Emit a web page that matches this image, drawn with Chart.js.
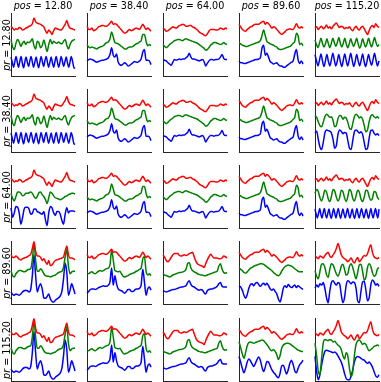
<!DOCTYPE html>
<html>
<head>
<meta charset="utf-8">
<script src="https://cdn.jsdelivr.net/npm/chart.js@4.4.1/dist/chart.umd.min.js"></script>
<style>
  body { margin: 0; background: #fff; width: 381px; height: 382px; position: relative; overflow: hidden;
         font-family: "DejaVu Sans", sans-serif; }
  canvas { position: absolute; }
  .ttl { position: absolute; font-size: 9.6px; line-height: 12px; text-align: center; width: 90px; white-space: nowrap; color: #000; }
  .rowlbl { position: absolute; font-size: 9.6px; line-height: 12px; text-align: center; width: 90px; white-space: nowrap;
            transform: rotate(-90deg); color: #000; }
</style>
</head>
<body>
<script>
// tick / header labels
const posLabels = ['12.80', '38.40', '64.00', '89.60', '115.20'];
const prLabels = ['12.80', '38.40', '64.00', '89.60', '115.20'];

// column pos=12.80
const a0Red = [.79,.76,.73,.75,.74,.77,.76,.73,.74,.76,.77,.79,.80,.83,.92,.86,.84,.83,.82,.80,.78,.72,.68,.73,.70,.66,.72,.76,.75,.74,.73,.74,.78,.82,.88,.80,.76,.75,.74,.73];
const a0Green = [.58,.46,.42,.52,.58,.54,.47,.52,.55,.50,.54,.53,.55,.59,.48,.43,.55,.53,.45,.48,.57,.48,.39,.50,.58,.51,.55,.53,.52,.54,.52,.51,.55,.58,.49,.43,.50,.55,.57,.58];
const a0Blue = [.30,.22,.14,.22,.31,.22,.14,.23,.31,.21,.13,.22,.30,.22,.15,.24,.31,.22,.14,.22,.30,.21,.13,.22,.31,.23,.15,.24,.31,.22,.14,.22,.30,.21,.14,.23,.31,.22,.14,.22,.31,.23,.15,.23,.30,.21,.14,.22,.31,.24,.14,.12];
const a2Green = [.55,.47,.43,.50,.57,.57,.55,.51,.52,.55,.55,.56,.57,.55,.50,.47,.50,.56,.57,.53,.50,.45,.39,.48,.57,.55,.51,.48,.47,.46,.45,.46,.48,.50,.51,.53,.54,.55,.55,.54];
const a2Blue = [.32,.17,.24,.34,.33,.24,.06,.16,.30,.33,.33,.30,.22,.23,.30,.30,.26,.25,.23,.22,.26,.13,.04,.24,.34,.32,.24,.20,.26,.26,.22,.12,.06,.22,.32,.24,.27,.27,.27,.26];
const a3Red = [.79,.74,.74,.76,.74,.71,.70,.72,.73,.74,.75,.77,.79,.88,.99,.84,.76,.76,.74,.69,.72,.67,.63,.69,.61,.62,.66,.69,.70,.71,.72,.73,.75,.84,.92,.78,.73,.73,.72,.70];
const a3Green = [.53,.45,.43,.48,.51,.53,.53,.52,.51,.52,.54,.55,.56,.70,.96,.70,.52,.52,.56,.53,.48,.45,.44,.44,.43,.44,.45,.46,.48,.50,.51,.52,.58,.75,.86,.60,.48,.51,.52,.52];
const a3Blue = [.19,.15,.14,.16,.15,.14,.16,.19,.21,.22,.21,.19,.23,.45,.78,.45,.19,.27,.32,.24,.10,.09,.12,.16,.08,.04,.03,.06,.08,.10,.13,.20,.40,.65,.50,.14,.22,.32,.25,.16];

// column pos=38.40
const bRed = [.79,.74,.74,.76,.72,.73,.75,.78,.79,.80,.80,.79,.79,.81,.84,.87,.82,.83,.82,.79,.76,.73,.70,.68,.69,.72,.74,.72,.73,.75,.76,.75,.74,.78,.82,.78,.74,.76,.74,.71];
const b0Green = [.50,.46,.45,.46,.45,.44,.43,.45,.46,.47,.48,.51,.53,.54,.59,.70,.62,.53,.52,.51,.49,.47,.45,.43,.43,.45,.46,.46,.47,.49,.51,.52,.54,.56,.66,.66,.55,.48,.50,.48];
const b0Blue = [.24,.26,.27,.26,.25,.23,.22,.23,.24,.25,.25,.26,.27,.29,.34,.45,.33,.30,.35,.22,.18,.17,.19,.21,.19,.16,.17,.19,.21,.23,.22,.22,.24,.27,.38,.42,.25,.25,.24,.18];
const b3Green = [.49,.48,.50,.51,.49,.48,.50,.52,.53,.52,.53,.55,.56,.57,.62,.85,.70,.53,.52,.51,.52,.48,.44,.43,.44,.45,.47,.48,.49,.50,.52,.53,.55,.57,.72,.75,.52,.46,.48,.45];
const b3Blue = [.17,.20,.23,.24,.24,.23,.24,.26,.27,.28,.29,.28,.28,.30,.35,.57,.30,.45,.32,.24,.22,.21,.19,.17,.20,.23,.23,.20,.20,.22,.24,.24,.25,.30,.55,.35,.14,.24,.27,.22];

// column pos=64.00
const c0Red = [.76,.74,.71,.72,.74,.76,.78,.77,.76,.78,.80,.81,.82,.81,.79,.79,.80,.80,.78,.77,.75,.73,.70,.68,.67,.65,.64,.67,.71,.74,.74,.74,.73,.73,.74,.76,.75,.74,.76,.75];
const c0Green = [.50,.47,.45,.47,.50,.52,.54,.56,.57,.58,.58,.57,.56,.58,.59,.58,.57,.56,.55,.54,.53,.52,.50,.48,.46,.44,.41,.42,.45,.49,.51,.53,.53,.52,.51,.50,.51,.53,.51,.50];
const c0Blue = [.26,.25,.24,.21,.19,.17,.22,.26,.25,.26,.27,.26,.27,.27,.29,.31,.36,.30,.27,.27,.26,.25,.24,.25,.26,.23,.16,.20,.24,.26,.26,.25,.26,.26,.27,.30,.34,.28,.26,.26];
const c3Red = [.78,.74,.69,.67,.70,.74,.78,.80,.80,.80,.77,.76,.77,.78,.77,.78,.80,.81,.82,.75,.68,.64,.62,.61,.60,.58,.64,.70,.75,.79,.76,.73,.73,.73,.72,.72,.73,.76,.75,.73];
const c3Green = [.48,.46,.45,.44,.43,.44,.46,.47,.48,.49,.50,.50,.51,.52,.55,.64,.66,.57,.53,.51,.50,.48,.47,.46,.46,.45,.45,.46,.47,.48,.49,.50,.51,.52,.60,.64,.55,.50,.49,.50];
const c3Blue = [.21,.20,.19,.20,.21,.22,.23,.23,.24,.25,.26,.27,.27,.28,.29,.34,.37,.31,.28,.27,.25,.23,.22,.23,.22,.18,.16,.21,.23,.24,.24,.25,.26,.28,.32,.34,.28,.27,.27,.27];

// column pos=89.60
const dRed = [.82,.78,.74,.72,.71,.74,.76,.78,.79,.81,.82,.82,.82,.84,.86,.87,.82,.85,.83,.80,.76,.78,.77,.74,.71,.68,.66,.68,.70,.73,.74,.75,.74,.74,.78,.83,.78,.76,.78,.76];
const d0Green = [.53,.51,.49,.48,.47,.47,.48,.49,.50,.51,.52,.53,.54,.56,.64,.73,.64,.55,.53,.51,.50,.49,.47,.46,.43,.42,.42,.43,.44,.45,.46,.47,.49,.52,.55,.68,.64,.50,.52,.48];
const d0Blue = [.24,.21,.21,.20,.20,.21,.22,.23,.24,.25,.26,.26,.27,.29,.44,.49,.33,.36,.30,.23,.21,.19,.20,.21,.18,.16,.16,.14,.14,.16,.18,.20,.22,.24,.35,.42,.26,.20,.24,.19];
const d3Green = [.58,.55,.53,.50,.49,.51,.54,.57,.58,.60,.61,.62,.63,.64,.64,.63,.61,.59,.57,.55,.53,.50,.48,.46,.45,.47,.52,.56,.59,.61,.62,.61,.60,.58,.56,.54,.52,.51,.51,.51];
const d3Blue = [.29,.27,.22,.14,.09,.15,.25,.31,.32,.29,.33,.34,.31,.28,.31,.33,.30,.33,.29,.24,.22,.24,.20,.16,.08,.03,.12,.25,.29,.26,.31,.28,.26,.28,.30,.26,.29,.27,.25,.23];
const d4Green = [.62,.53,.43,.36,.45,.56,.61,.62,.61,.60,.61,.62,.63,.64,.65,.64,.61,.58,.54,.50,.48,.50,.47,.42,.34,.40,.52,.57,.59,.60,.60,.59,.57,.55,.53,.51,.49,.48,.47,.47];
const d4Blue = [.39,.30,.20,.13,.20,.30,.35,.32,.27,.23,.28,.34,.38,.33,.22,.15,.22,.31,.30,.24,.18,.14,.11,.07,.05,.12,.24,.25,.18,.11,.18,.28,.33,.26,.16,.13,.20,.26,.29,.33];

// column pos=115.20
const e0Red = [.76,.78,.74,.77,.79,.75,.77,.81,.76,.78,.75,.79,.82,.84,.80,.77,.79,.78,.75,.77,.76,.78,.74,.72,.76,.79,.75,.73,.77,.79,.75,.70,.66,.72,.78,.80,.77,.83,.79,.77];
const e0Green = [.57,.50,.45,.52,.60,.52,.46,.51,.59,.51,.45,.52,.60,.53,.47,.53,.61,.52,.46,.52,.60,.51,.45,.51,.59,.52,.47,.53,.60,.51,.44,.50,.59,.52,.46,.52,.60,.52,.46,.53,.61,.53,.47,.50];
const e0Blue = [.34,.24,.16,.25,.35,.24,.15,.24,.34,.23,.16,.26,.36,.25,.16,.24,.34,.23,.15,.25,.35,.24,.16,.26,.36,.25,.15,.23,.34,.24,.16,.25,.35,.23,.15,.24,.34,.24,.17,.26,.36,.25,.16,.24];
const e1Green = [.58,.55,.48,.42,.40,.47,.56,.60,.58,.55,.56,.50,.40,.42,.53,.58,.57,.52,.55,.54,.47,.38,.36,.45,.56,.60,.58,.54,.56,.52,.42,.32,.35,.48,.57,.59,.56,.54,.56,.53];
const e1Blue = [.30,.33,.20,.08,.04,.15,.30,.35,.34,.33,.30,.20,.06,.10,.28,.35,.33,.29,.31,.30,.18,.06,.04,.18,.32,.35,.33,.30,.32,.28,.15,.04,.06,.22,.34,.35,.30,.27,.29,.26];
const e2Green = [.55,.61,.58,.48,.43,.50,.60,.57,.47,.42,.50,.61,.59,.49,.43,.48,.60,.58,.48,.42,.50,.61,.58,.47,.43,.51,.60,.57,.46,.42,.49,.60,.59,.50,.44,.47,.58,.57,.49,.45];
const e2Blue = [.30,.22,.16,.23,.31,.22,.16,.24,.31,.22,.16,.23,.30,.21,.15,.23,.31,.23,.16,.24,.31,.22,.15,.23,.30,.22,.16,.24,.31,.22,.16,.23,.30,.21,.15,.23,.31,.22,.16,.24,.31,.23,.16,.23,.30,.22,.15,.23,.31,.22,.16,.24,.31,.22,.16,.30];
const e3Red = [.77,.74,.72,.76,.75,.73,.77,.80,.82,.76,.74,.78,.82,.88,.96,.88,.78,.74,.72,.70,.67,.70,.73,.68,.65,.70,.74,.67,.70,.74,.77,.76,.80,.88,.94,.82,.75,.73,.72,.74];
const e3Green = [.53,.44,.40,.52,.63,.64,.58,.47,.42,.55,.64,.62,.55,.48,.44,.50,.60,.63,.55,.46,.48,.60,.64,.58,.48,.40,.50,.62,.63,.52,.38,.42,.58,.64,.60,.50,.44,.46,.55,.58];
const e3Blue = [.25,.30,.27,.32,.30,.34,.25,.10,.02,.20,.34,.37,.33,.30,.34,.32,.15,.02,.10,.30,.37,.35,.32,.35,.34,.25,.05,.02,.20,.35,.36,.22,.05,.10,.30,.38,.35,.30,.32,.28];
const e4Green = [.60,.40,.15,.10,.35,.60,.66,.65,.64,.66,.65,.62,.63,.60,.57,.55,.50,.40,.35,.45,.40,.20,.07,.15,.40,.58,.64,.65,.62,.58,.60,.58,.52,.48,.50,.52,.55,.56,.57,.56];
const e4Blue = [.39,.15,.02,.10,.25,.38,.47,.49,.48,.47,.46,.45,.46,.44,.40,.35,.30,.22,.12,.04,.02,.02,.08,.18,.30,.37,.39,.38,.36,.34,.33,.30,.28,.30,.27,.22,.15,.08,.06,.10];

// which series go in which panel [row][col] -> [red, green, blue]
const panels = [
  [[a0Red, a0Green, a0Blue], [bRed, b0Green, b0Blue], [c0Red, c0Green, c0Blue], [dRed, d0Green, d0Blue], [e0Red, e0Green, e0Blue]],
  [[a0Red, a0Green, a0Blue], [bRed, b0Green, b0Blue], [c0Red, c0Green, c0Blue], [dRed, d0Green, d0Blue], [e0Red, e1Green, e1Blue]],
  [[a0Red, a2Green, a2Blue], [bRed, b0Green, b0Blue], [c0Red, c0Green, c0Blue], [dRed, d0Green, d0Blue], [e0Red, e2Green, e2Blue]],
  [[a3Red, a3Green, a3Blue], [bRed, b3Green, b3Blue], [c3Red, c3Green, c3Blue], [dRed, d3Green, d3Blue], [e3Red, e3Green, e3Blue]],
  [[a3Red, a3Green, a3Blue], [bRed, b3Green, b3Blue], [c3Red, c3Green, c3Blue], [dRed, d4Green, d4Blue], [e3Red, e4Green, e4Blue]]
];
const colors = ['#ff0000', '#008000', '#0000ff'];

const colX = [11, 87, 163, 239, 315];
const rowY = [13, 89, 165, 241, 318];
const W = 64, H = 63, PAD = 3;

function toPoints(arr) {
  return arr.map((v, i) => ({x: i / (arr.length - 1), y: v}));
}

for (let r = 0; r < 5; r++) {
  for (let c = 0; c < 5; c++) {
    const cv = document.createElement('canvas');
    cv.width = W + 2 * PAD;
    cv.height = H + 2 * PAD;
    cv.style.left = (colX[c] - PAD) + 'px';
    cv.style.top = (rowY[r] - PAD) + 'px';
    document.body.appendChild(cv);
    new Chart(cv, {
      type: 'line',
      data: {
        datasets: panels[r][c].map((arr, k) => ({
          data: toPoints(arr),
          borderColor: colors[k],
          borderWidth: 1.5,
          pointRadius: 0,
          cubicInterpolationMode: 'monotone',
          clip: false
        }))
      },
      options: {
        responsive: false,
        animation: false,
        events: [],
        layout: {padding: PAD},
        plugins: {legend: {display: false}, tooltip: {enabled: false}},
        scales: {
          x: {
            type: 'linear', min: 0, max: 1,
            ticks: {display: false}, grid: {display: false, drawTicks: false},
            border: {display: true, color: '#262626', width: 1},
            afterFit: s => { s.height = 0; }
          },
          y: {
            min: 0, max: 1,
            ticks: {display: false}, grid: {display: false, drawTicks: false},
            border: {display: true, color: '#262626', width: 1},
            afterFit: s => { s.width = 0; }
          }
        }
      }
    });
  }
}

// column titles and row labels
posLabels.forEach((t, c) => {
  const d = document.createElement('div');
  d.className = 'ttl';
  d.style.left = (colX[c] + W / 2 - 45) + 'px';
  d.style.top = '0px';
  d.innerHTML = '<i>pos</i> = ' + t;
  document.body.appendChild(d);
});
prLabels.forEach((t, r) => {
  const d = document.createElement('div');
  d.className = 'rowlbl';
  d.style.left = (7 - 45) + 'px';
  d.style.top = (rowY[r] + H / 2 - 6) + 'px';
  d.innerHTML = '<i>pr</i> = ' + t;
  document.body.appendChild(d);
});
</script>
</body>
</html>
